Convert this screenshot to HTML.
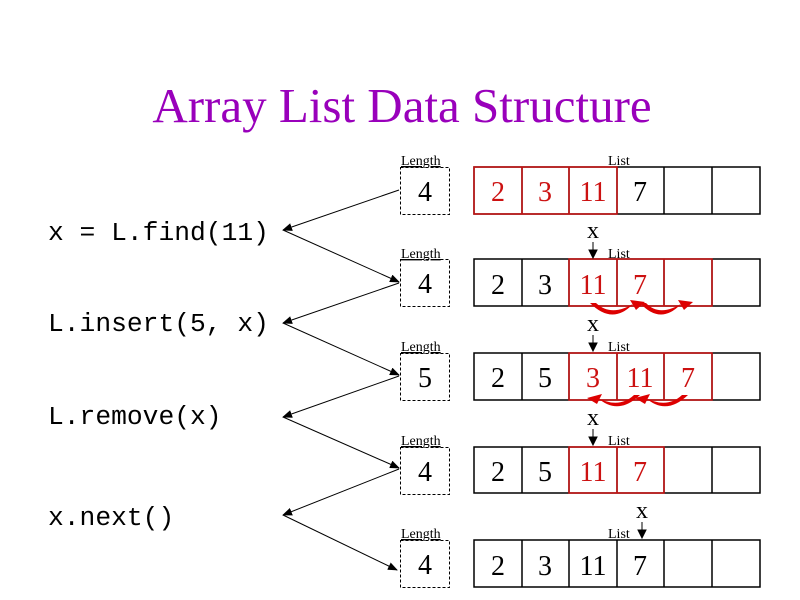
<!DOCTYPE html>
<html><head><style>body{margin:0;background:#fff}svg{display:block}</style></head><body>
<svg width="800" height="600" xmlns="http://www.w3.org/2000/svg">
<defs><marker id="a" markerWidth="10" markerHeight="8" refX="9" refY="4" orient="auto" markerUnits="userSpaceOnUse"><path d="M0,0 L10,4 L0,8z" fill="#000"/></marker></defs>
<text x="402" y="122" text-anchor="middle" font-family="Liberation Serif,serif" font-size="49" fill="#9900bb">Array List Data Structure</text>
<g font-family="Liberation Mono,monospace" font-size="26.3" fill="#000">
<text x="48" y="240">x = L.find(11)</text>
<text x="48" y="331">L.insert(5, x)</text>
<text x="48" y="424">L.remove(x)</text>
<text x="48" y="525">x.next()</text>
</g>
<g stroke="#000" stroke-width="1" fill="none">
<line x1="399" y1="190" x2="283" y2="230" marker-end="url(#a)"/>
<line x1="283" y1="230" x2="399" y2="282" marker-end="url(#a)"/>
<line x1="399" y1="283" x2="283" y2="323" marker-end="url(#a)"/>
<line x1="283" y1="323" x2="399" y2="375" marker-end="url(#a)"/>
<line x1="399" y1="376" x2="283" y2="417" marker-end="url(#a)"/>
<line x1="283" y1="417" x2="399" y2="468" marker-end="url(#a)"/>
<line x1="399" y1="469" x2="283" y2="515" marker-end="url(#a)"/>
<line x1="283" y1="515" x2="397" y2="570" marker-end="url(#a)"/>
</g>
<g font-family="Liberation Serif,serif" font-size="14" fill="#000" text-decoration="underline">
<text x="401" y="165">Length</text><text x="401" y="258">Length</text><text x="401" y="351">Length</text><text x="401" y="445">Length</text><text x="401" y="538">Length</text>
</g>
<g font-family="Liberation Serif,serif" font-size="14" fill="#000">
<text x="608" y="165">List</text><text x="608" y="258">List</text><text x="608" y="351">List</text><text x="608" y="445">List</text><text x="608" y="538">List</text>
</g>
<g fill="none" stroke="#000" stroke-dasharray="3,2">
<rect x="400.5" y="167.5" width="49" height="47"/><rect x="400.5" y="259.5" width="49" height="47"/><rect x="400.5" y="353.5" width="49" height="47"/><rect x="400.5" y="447.5" width="49" height="47"/><rect x="400.5" y="540.5" width="49" height="47"/>
</g>
<g font-family="Liberation Serif,serif" font-size="28" text-anchor="middle">
<text x="425" y="201">4</text><text x="425" y="293">4</text><text x="425" y="387">5</text><text x="425" y="481">4</text><text x="425" y="574">4</text>
</g>
<g stroke="#000" stroke-width="1.5" fill="none">
<rect x="474" y="167" width="286" height="47"/><rect x="474" y="259" width="286" height="47"/><rect x="474" y="353" width="286" height="47"/><rect x="474" y="447" width="286" height="46"/><rect x="474" y="540" width="286" height="47"/>
<path d="M522,167v47M569,167v47M617,167v47M664,167v47M712,167v47"/>
<path d="M522,259v47M569,259v47M617,259v47M664,259v47M712,259v47"/>
<path d="M522,353v47M569,353v47M617,353v47M664,353v47M712,353v47"/>
<path d="M522,447v46M569,447v46M617,447v46M664,447v46M712,447v46"/>
<path d="M522,540v47M569,540v47M617,540v47M664,540v47M712,540v47"/>
</g>
<g stroke="#cc1111" stroke-width="1.5" fill="none">
<rect x="474" y="167" width="143" height="47"/><path d="M522,167v47M569,167v47"/>
<rect x="569" y="259" width="143" height="47"/><path d="M617,259v47M664,259v47"/>
<rect x="569" y="353" width="143" height="47"/><path d="M617,353v47M664,353v47"/>
<rect x="569" y="447" width="95" height="46"/><path d="M617,447v46"/>
</g>
<g font-family="Liberation Serif,serif" font-size="28" text-anchor="middle">
<text x="498" y="201" fill="#cc1111">2</text><text x="545" y="201" fill="#cc1111">3</text><text x="593" y="201" fill="#cc1111">11</text><text x="640" y="201">7</text>
<text x="498" y="294">2</text><text x="545" y="294">3</text><text x="593" y="294" fill="#cc1111">11</text><text x="640" y="294" fill="#cc1111">7</text>
<text x="498" y="387">2</text><text x="545" y="387">5</text><text x="593" y="387" fill="#cc1111">3</text><text x="640" y="387" fill="#cc1111">11</text><text x="688" y="387" fill="#cc1111">7</text>
<text x="498" y="481">2</text><text x="545" y="481">5</text><text x="593" y="481" fill="#cc1111">11</text><text x="640" y="481" fill="#cc1111">7</text>
<text x="498" y="575">2</text><text x="545" y="575">3</text><text x="593" y="575">11</text><text x="640" y="575">7</text>
</g>
<g font-family="Liberation Serif,serif" font-size="24" text-anchor="middle">
<text x="593" y="238">x</text><text x="593" y="331">x</text><text x="593" y="425">x</text><text x="642" y="518">x</text>
</g>
<g fill="#000">
<path d="M589,250h8l-4,8z M593,242v8" stroke="#000"/>
<path d="M589,343h8l-4,8z M593,335v8" stroke="#000"/>
<path d="M589,437h8l-4,8z M593,429v8" stroke="#000"/>
<path d="M638,530h8l-4,8z M642,522v8" stroke="#000"/>
</g>
<g fill="#dd0000" stroke="none">
<path d="M590,303 Q612,325 632,305 L636,302 Q612,318 596,303z"/>
<path d="M630,300 L645,302 L636,310z"/>
<path d="M640,303 Q660,325 680,305 L684,302 Q660,318 646,303z"/>
<path d="M678,300 L693,302 L684,310z"/>
<path d="M688,395 Q666,416 646,398 L642,396 Q666,410 682,395z"/>
<path d="M635,398 L650,394 L645,404z"/>
<path d="M640,395 Q618,416 598,398 L594,396 Q618,410 634,395z"/>
<path d="M587,398 L602,394 L597,404z"/>
</g>
</svg>
</body></html>
